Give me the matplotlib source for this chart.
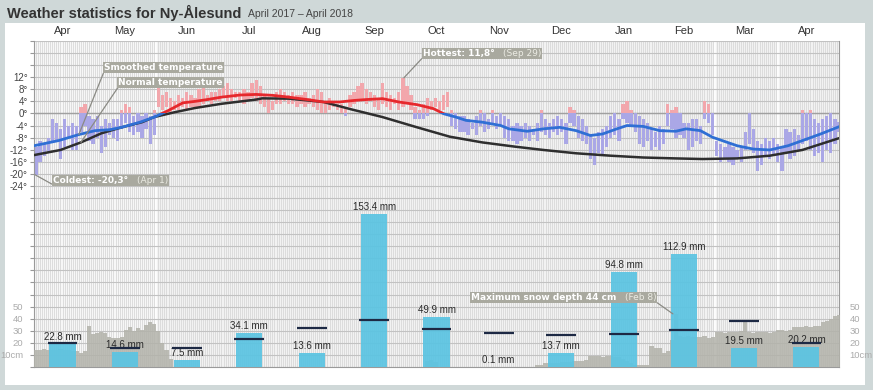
import numpy as np
import matplotlib
matplotlib.use("Agg")
import matplotlib.pyplot as plt
from matplotlib.patches import Rectangle
from matplotlib.offsetbox import TextArea, HPacker, AnnotationBbox
from matplotlib.transforms import blended_transform_factory

# --- data (April 2017 - April 2018) ---
months = ["Apr", "May", "Jun", "Jul", "Aug", "Sep", "Oct", "Nov", "Dec", "Jan", "Feb", "Mar", "Apr"]
month_days = [30, 31, 30, 31, 31, 30, 31, 30, 31, 31, 28, 31, 30]

precip_mm = [22.8, 14.6, 7.5, 34.1, 13.6, 153.4, 49.9, 0.1, 13.7, 94.8, 112.9, 19.5, 20.2]
precip_normal_mm = [24, 19, 19, 28, 39, 47, 38, 34, 32, 33, 37, 46, 24]

# daily temperature range, one entry per two days
temp_hi = [-11, -9, -10, -8, -2, -3, -5, -2, -4, -3,
           -4, 2, 3, -1, -2, -1, -4, -2, -3, -2,
           -2, 1, 3, 2, -1, 0, -1, 0, -1, 1,
           9, 6, 7, 5, 4, 6, 5, 7, 6, 5,
           8, 9, 6, 7, 7, 8, 9, 10, 8, 7,
           7, 8, 7, 10, 11, 9, 6, 5, 4, 7,
           8, 7, 6, 7, 6, 6, 7, 5, 6, 8,
           7, 4, 5, 4, 3, 3, 2, 6, 7, 9,
           10, 8, 7, 6, 5, 10, 7, 6, 5, 7,
           11.8, 9, 6, 2, 1, 3, 5, 4, 5, 4,
           6, 7, 1, 0, -1, -1, -2, -3, -1, 1,
           0, -2, 1, -1, 0, -1, -2, -4, -3, -4,
           -3, -4, -5, -3, 1, -2, -3, -2, -1, -2,
           -3, 2, 1, -1, -2, -4, -7, -8, -6, -5,
           -4, -1, 0, -2, 3, 4, 1, 0, -1, -2,
           -3, -5, -6, -4, -5, 3, 1, 2, 0, -3,
           -3, -2, -2, -4, 4, 3, 0, -9, -10, -11,
           -10, -11, -12, -11, -6, 0, -5, -9, -10, -8,
           -9, -8, -10, -11, -5, -6, -5, -7, 1, 0,
           1, -2, -3, -2, -1, 0, -2, -3]
temp_lo = [-20.3, -16, -14, -13, -9, -9, -15, -11, -8, -12,
           -12, -6, -4, -9, -10, -8, -13, -11, -7, -8,
           -9, -5, -3, -6, -7, -6, -8, -5, -10, -7,
           2, 1, 2, 0, 1, 1, 2, 1, 2, 2,
           2, 3, 4, 3, 4, 4, 5, 4, 4, 5,
           4, 3, 4, 5, 4, 3, 2, 0, 1, 3,
           3, 4, 3, 3, 2, 3, 2, 3, 2, 1,
           0, 0, 1, 2, 1, 0, -1, 2, 3, 4,
           4, 3, 4, 2, 1, 3, 2, 1, 3, 1,
           2, 3, 1, -2, -2, -2, -1, 1, 2, 1,
           1, 2, -4, -5, -6, -6, -7, -5, -7, -4,
           -6, -5, -3, -5, -4, -8, -9, -9, -10, -9,
           -8, -9, -7, -9, -6, -7, -8, -6, -7, -6,
           -10, -3, -4, -8, -9, -10, -15, -17, -13, -14,
           -11, -8, -7, -9, -2, -3, -4, -6, -10, -11,
           -9, -12, -11, -12, -10, -4, -5, -8, -7, -8,
           -12, -11, -9, -10, -2, -3, -7, -14, -16, -15,
           -16, -17, -15, -16, -12, -10, -13, -19, -17, -14,
           -15, -14, -16, -19, -13, -15, -14, -12, -10, -9,
           -12, -14, -13, -16, -12, -13, -10, -6]

# smoothed and normal temperature curves (day of period, degrees)
smooth_day = [0, 12, 22, 30, 37, 43, 52, 59, 66, 73, 79, 85, 92, 101, 109, 117, 125, 134, 142, 150,
              157, 163, 171, 179, 188, 196, 201, 207, 212, 220, 229, 233, 242, 250, 258, 266, 273, 279,
              286, 291, 299, 307, 315, 320, 327, 333, 345, 353, 361, 370, 377, 386, 395]
smooth_temp = [-10.7, -9.0, -7.0, -5.7, -5.4, -4.6, -2.9, -1.2, 1.0, 3.5, 4.0, 4.6, 5.4, 6.1, 6.3, 6.0,
               5.4, 4.6, 3.8, 3.8, 4.3, 4.6, 4.9, 3.8, 2.9, 1.6, -0.1, -1.2, -2.3, -2.9, -4.0, -5.1,
               -5.9, -5.1, -4.6, -5.7, -7.3, -6.8, -5.1, -4.0, -4.3, -5.7, -5.9, -5.1, -5.7, -7.9,
               -10.7, -11.8, -12.1, -10.7, -9.0, -6.8, -4.4]
normal_day = [0, 13, 23, 33, 43, 53, 59, 69, 79, 92, 109, 112, 125, 142, 156, 171, 188, 204, 220, 236,
              250, 266, 283, 299, 315, 328, 345, 361, 377, 395]
normal_temp = [-13.8, -12.1, -9.6, -6.6, -4.6, -2.9, -1.2, 0.4, 1.8, 3.2, 4.6, 5.0, 4.9, 3.8, 1.3, -1.2,
               -4.6, -7.7, -9.6, -11.0, -12.1, -13.2, -14.0, -14.6, -14.9, -15.1, -14.9, -14.0, -12.1, -8.2]

# snow depth in cm, one entry per two days
snow_cm = ([14, 14, 15, 14, 14, 14, 15, 14, 14, 13, 13, 12, 13, 34, 27, 28, 29, 28,
            25, 24, 24, 25, 31, 33, 30, 32, 31, 35, 37, 36, 30, 20, 14, 7]
           + [0] * 62 + [5, 6, 4] + [0] * 24
           + [2, 2, 3, 3, 3, 3, 4, 4, 4, 5, 5, 5, 6, 9, 9, 9, 8, 9, 9, 8, 8, 7, 5, 3, 2,
              2, 2, 2, 17, 16, 16, 12, 13, 22, 44, 26, 25, 26, 25, 25, 25, 26, 24, 25,
              29, 29, 28, 29, 29, 29, 30, 39, 29, 28, 29, 29, 29, 28, 29, 31, 31, 30, 31,
              33, 33, 33, 34, 33, 34, 34, 37, 38, 40, 42, 43])

coldest = (0.5, -20.3)
hottest = (181.5, 11.8)
snow_max = (313.5, 44)

n_days = sum(month_days)
starts = np.cumsum([0] + month_days[:-1])
mids = starts + np.array(month_days) / 2 - 1

W, H = 873, 390
fig = plt.figure(figsize=(W / 100, H / 100), dpi=100, facecolor="#cfd8d8")
fig.patches.append(Rectangle((5 / W, 5 / H), 860 / W, 362 / H, transform=fig.transFigure,
                             facecolor="white", edgecolor="none", zorder=-10))

ax = fig.add_axes([34 / W, (H - 367) / H, 805 / W, 326 / H])
ax.set_facecolor("#f2f2f2")
ax.set_xlim(0, n_days)
ax.set_ylim(-84, 24)

# day stripes, season marks
ax.axvspan(0, 60, color="white", alpha=0.45, lw=0, zorder=0.2)
ax.vlines(np.arange(0, n_days + 1), -84, 24, color="#d3d3d3", lw=0.5, zorder=0.5)
ax.vlines([60, 334, 365], -84, 24, color="white", lw=1.3, zorder=0.6)
major = np.arange(12, -25, -4)
minor = [24, 20, 16] + list(range(-28, -85, -4))
ax.hlines(list(major) + minor, 0, n_days, color="#c2c2c2", lw=0.8, zorder=0.8)
ax.axhline(0, color="#a0a0a0", lw=1.0, zorder=0.9)

# daily temperature ranges
tx = np.arange(len(temp_hi)) * 2 + 1
hi = np.array(temp_hi, dtype=float)
lo = np.array(temp_lo, dtype=float)
cold = lo < 0
ax.bar(tx[cold], np.minimum(hi, 0)[cold] - lo[cold], bottom=lo[cold], width=1.6,
       color="#aaa7e6", lw=0, zorder=2)
warm = hi > 0
ax.bar(tx[warm], hi[warm] - np.maximum(lo, 0)[warm], bottom=np.maximum(lo, 0)[warm], width=1.6,
       color="#f2a7ac", lw=0, zorder=2)

ax.plot(normal_day, normal_temp, color="#2e2e2e", lw=1.8, zorder=4, solid_capstyle="round")
red, = ax.plot(smooth_day, smooth_temp, color="#e6282c", lw=2.0, zorder=5)
red.set_clip_path(Rectangle((0, 0), n_days, 24, transform=ax.transData))
blue, = ax.plot(smooth_day, smooth_temp, color="#2f6fd4", lw=2.0, zorder=5)
blue.set_clip_path(Rectangle((0, -84), n_days, 84, transform=ax.transData))

ax.set_xticks([])
ax.set_yticks(major, [f"{t}°" for t in major])
ax.set_yticks(minor, minor=True)
ax.tick_params(which="both", direction="out", length=3, width=0.8, color="#999999",
               left=True, right=True, labelleft=True, labelright=True,
               labelsize=7, labelcolor="#444444", pad=1.5)
for lab in ax.get_yticklabels():
    lab.set_family("Liberation Sans")
for side in ["left", "right", "bottom"]:
    ax.spines[side].set_color("#9a9a9a")
ax.spines["top"].set_visible(False)

# snow depth axis
ax3 = ax.twinx()
ax3.set_ylim(0, 270)
ax3.fill_between(np.arange(len(snow_cm) + 1) * 2, snow_cm + [snow_cm[-1]], step="post",
                 color="#b2b2aa", lw=0, alpha=0.85, zorder=1)
ax3.set_yticks([10, 20, 30, 40, 50], ["10cm", "20", "30", "40", "50"])
ax3.tick_params(left=False, right=False, labelleft=True, labelright=True,
                labelsize=6.8, labelcolor="#ababab", pad=4)
for lab in ax3.get_yticklabels():
    lab.set_family("Liberation Sans")
for s in ax3.spines.values():
    s.set_visible(False)

# precipitation axis
ax2 = ax.twinx()
ax2.set_ylim(0, 326)
ax2.set_yticks([])
for s in ax2.spines.values():
    s.set_visible(False)
ax2.bar(mids, precip_mm, width=12.8, color="#5bc4e2", alpha=0.93, lw=0, zorder=2)
ax2.hlines(precip_normal_mm, mids - 7.3, mids + 7.3, color="#1d2944", lw=1.6, zorder=4)
for m, v in zip(mids, precip_mm):
    ax2.text(m, v + 7, f"{v} mm", ha="center", va="center", fontsize=7, color="#2a2a2a",
             family="Liberation Sans", zorder=3)

# month labels along the top
trans = blended_transform_factory(ax.transData, fig.transFigure)
for m, name in zip(mids, months):
    ax.text(m, 1 - 31 / H, name, transform=trans, ha="center", va="center",
            fontsize=8, color="#333333", family="Liberation Sans")

fig.text(7 / W, 1 - 13 / H, "Weather statistics for Ny-Ålesund", ha="left", va="center",
         fontsize=10.5, fontweight="bold", color="#333333", family="Liberation Sans")
fig.text(248 / W, 1 - 14 / H, "April 2017 – April 2018", ha="left", va="center",
         fontsize=7.5, color="#444444", family="Liberation Sans")


def label_box(host, bold, light, xy, xycoords, offset, align, relpos):
    parts = [TextArea(bold, textprops=dict(color="white", fontsize=6.5, fontweight="bold",
                                           family="DejaVu Sans"))]
    if light:
        parts.append(TextArea(light, textprops=dict(color="#ececE4", fontsize=6.5,
                                                    family="DejaVu Sans")))
    pack = HPacker(children=parts, pad=0, sep=6, align="baseline")
    ab = AnnotationBbox(pack, xy, xybox=offset, xycoords=xycoords, boxcoords="offset points",
                        box_alignment=align, pad=0.12, fontsize=6.5,
                        bboxprops=dict(facecolor="#a9a99f", edgecolor="none"),
                        arrowprops=dict(arrowstyle="-", color="#8a8a84", lw=0.9, relpos=relpos,
                                        shrinkA=0, shrinkB=0),
                        zorder=10)
    host.add_artist(ab)


label_box(ax, "Smoothed temperature", None, (smooth_day[2], smooth_temp[2]), "data",
          (18, 45), (0, 0), (0, 0))
label_box(ax, "Normal temperature", None, (normal_day[2], normal_temp[2]), "data",
          (27, 40), (0, 0), (0, 0))
label_box(ax, "Coldest: -20,3°", "(Apr 1)", coldest, "data", (13, -4), (0, 0.5), (0, 0))
label_box(ax, "Hottest: 11,8°", "(Sep 29)", hottest, "data", (13.5, 14.5), (0, 0), (0, 0))
label_box(ax2, "Maximum snow depth 44 cm", "(Feb 8)", snow_max, ax3.transData,
          (-12, 8.5), (1, 0), (1, 0))

fig.savefig("out.png", dpi=100, facecolor=fig.get_facecolor())
